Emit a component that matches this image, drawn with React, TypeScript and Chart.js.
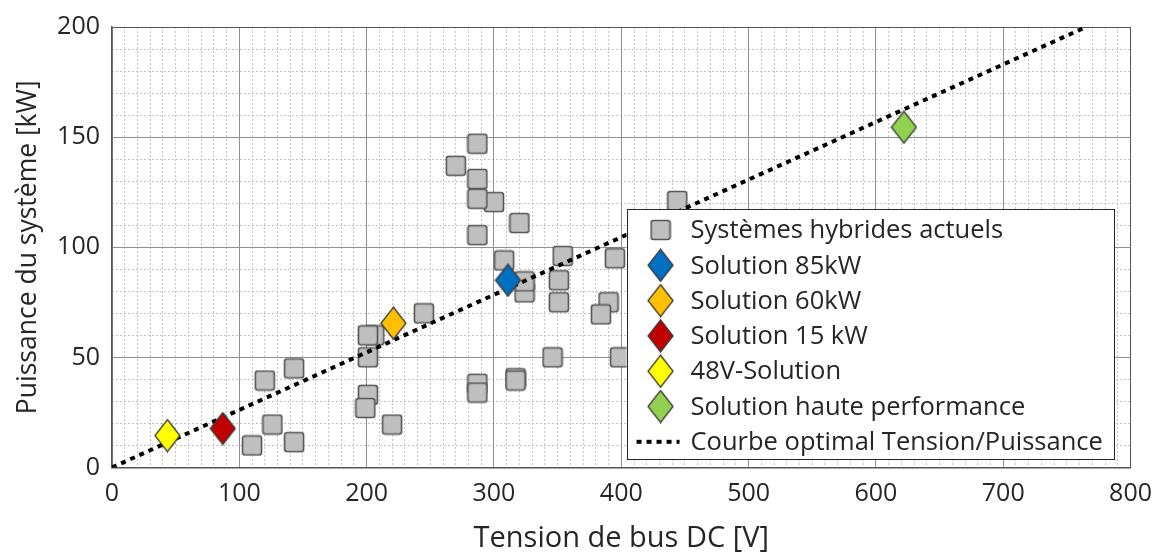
import React, { useEffect, useRef } from 'react';
import { Chart, registerables } from 'chart.js';

Chart.register(...registerables);

// ---- Data ----
const hybridVoltage = [110, 126, 120, 143, 143, 206, 201, 201, 201, 199, 220, 245, 270, 287, 287, 300, 287, 287, 320, 308, 324, 324, 287, 287, 317, 317, 346, 354, 351, 351, 390, 384, 395, 399, 444];
const hybridPower = [10, 19.5, 39.5, 45, 11.5, 60, 60, 50, 33, 27, 19.5, 70, 137, 147, 131, 120.5, 122, 105.5, 111, 94, 79.5, 84.5, 38, 34, 40.5, 39.5, 50, 96, 85, 75, 75, 69.5, 95, 50, 121];

const solutionNames = ['Solution 85kW', 'Solution 60kW', 'Solution 15 kW', '48V-Solution', 'Solution haute performance'];
const solutionVoltage = [311, 221, 87, 43.5, 622];
const solutionPower = [85, 65.5, 17.7, 14.5, 154.5];
const solutionColors = ['#0070c0', '#ffc000', '#c00000', '#ffff00', '#92d050'];

const optimalVoltage = [0, 765];
const optimalPower = [0, 200];

const hybridLabel = 'Systèmes hybrides actuels';
const optimalLabel = 'Courbe optimal Tension/Puissance';
const xTitle = 'Tension de bus DC [V]';
const yTitle = 'Puissance du système [kW]';

const xMin = 0, xMax = 800, xMajor = 100, xMinor = 10;
const yMin = 0, yMax = 200, yMajor = 50, yMinor = 10;

// ---- Styling ----
const TEXT = '#262626';
const FONT = 'Open Sans';

function makeSquare(): HTMLCanvasElement {
  const c = document.createElement('canvas');
  c.width = 22; c.height = 22;
  const ctx = c.getContext('2d')!;
  ctx.fillStyle = '#bfbfbf';
  ctx.strokeStyle = '#555555';
  ctx.lineWidth = 1.6;
  const x = 1.5, y = 1.5, w = 19, h = 19, r = 2.5;
  ctx.beginPath();
  ctx.moveTo(x + r, y);
  ctx.lineTo(x + w - r, y);
  ctx.quadraticCurveTo(x + w, y, x + w, y + r);
  ctx.lineTo(x + w, y + h - r);
  ctx.quadraticCurveTo(x + w, y + h, x + w - r, y + h);
  ctx.lineTo(x + r, y + h);
  ctx.quadraticCurveTo(x, y + h, x, y + h - r);
  ctx.lineTo(x, y + r);
  ctx.quadraticCurveTo(x, y, x + r, y);
  ctx.closePath();
  ctx.fill();
  ctx.stroke();
  return c;
}

function makeDiamond(color: string): HTMLCanvasElement {
  const c = document.createElement('canvas');
  c.width = 27; c.height = 34;
  const ctx = c.getContext('2d')!;
  ctx.fillStyle = color;
  ctx.strokeStyle = '#3a3a3a';
  ctx.lineWidth = 1.3;
  ctx.lineJoin = 'miter';
  ctx.beginPath();
  ctx.moveTo(13.5, 1);
  ctx.lineTo(26, 17);
  ctx.lineTo(13.5, 33);
  ctx.lineTo(1, 17);
  ctx.closePath();
  ctx.fill();
  ctx.stroke();
  return c;
}

const insideLegend = {
  id: 'insideLegend',
  afterDatasetsDraw(chart: any) {
    const { ctx, chartArea } = chart;
    const w = 488, h = 251;
    const right = chartArea.right - 16;
    const bottom = chartArea.bottom - 7.5;
    const left = right - w;
    const top = bottom - h;
    ctx.save();
    ctx.fillStyle = '#ffffff';
    ctx.fillRect(left, top, w, h);
    ctx.strokeStyle = '#262626';
    ctx.lineWidth = 1;
    ctx.strokeRect(Math.round(left) + 0.5, Math.round(top) + 0.5, w - 1, h - 1);
    const items = chart.data.datasets.map((d: any) => d);
    const rowH = 35.3;
    ctx.font = `25.5px "${FONT}"`;
    ctx.textBaseline = 'middle';
    ctx.textAlign = 'left';
    items.forEach((d: any, i: number) => {
      const cy = top + 21 + i * rowH;
      if (d.type === 'line') {
        ctx.save();
        ctx.strokeStyle = '#000';
        ctx.lineWidth = 4;
        ctx.setLineDash([5, 5]);
        ctx.beginPath();
        ctx.moveTo(left + 10, cy);
        ctx.lineTo(left + 53, cy);
        ctx.stroke();
        ctx.restore();
      } else {
        const img = d.pointStyle as HTMLCanvasElement;
        ctx.drawImage(img, left + 34 - img.width / 2, cy - img.height / 2);
      }
      ctx.fillStyle = TEXT;
      ctx.fillText(d.label, left + 64, cy + 1);
    });
    ctx.restore();
  },
};

export default function App() {
  const ref = useRef<HTMLCanvasElement | null>(null);

  useEffect(() => {
    if (!ref.current) return;
    const square = makeSquare();
    const datasets: any[] = [
      {
        type: 'scatter',
        label: hybridLabel,
        data: hybridVoltage.map((v, i) => ({ x: v, y: hybridPower[i] })),
        pointStyle: square,
        pointRadius: 10,
        order: 3,
      },
      ...solutionNames.map((name, i) => ({
        type: 'scatter',
        label: name,
        data: [{ x: solutionVoltage[i], y: solutionPower[i] }],
        pointStyle: makeDiamond(solutionColors[i]),
        pointRadius: 12,
        order: 1,
      })),
      {
        type: 'line',
        label: optimalLabel,
        data: optimalVoltage.map((v, i) => ({ x: v, y: optimalPower[i] })),
        borderColor: '#000000',
        borderWidth: 4,
        borderDash: [5, 5],
        pointRadius: 0,
        fill: false,
        tension: 0,
        order: 2,
      },
    ];

    const chart = new Chart(ref.current, {
      type: 'scatter',
      data: { datasets },
      options: {
        animation: false,
        responsive: false,
        layout: { padding: { top: 24.5, right: 32, left: 0, bottom: 0 } },
        plugins: {
          legend: { display: false },
          tooltip: { enabled: false },
        },
        scales: {
          x: {
            type: 'linear',
            position: 'bottom',
            min: xMin,
            max: xMax,
            ticks: { stepSize: xMajor, font: { family: FONT, size: 25 }, color: TEXT, padding: 11, maxRotation: 0 },
            grid: {
              color: (c: any) => (c.tick && c.tick.value === xMax ? '#555555' : '#8f8f8f'),
              lineWidth: 1,
              drawTicks: false,
              z: -1,
            },
            border: { display: true, color: '#555555', width: 1.5 },
            title: { display: true, text: xTitle, font: { family: FONT, size: 29 }, color: TEXT, padding: { top: 0, bottom: -3 } },
            afterFit: (s: any) => { s.height = 85.5; },
          },
          xm: {
            type: 'linear',
            position: 'bottom',
            min: xMin,
            max: xMax,
            ticks: { display: false, stepSize: xMinor },
            grid: { color: '#c4c4c4', lineWidth: 1, drawTicks: false, z: -2 },
            border: { display: false, dash: [2, 2] },
            afterFit: (s: any) => { s.height = 0; },
          },
          y: {
            type: 'linear',
            position: 'left',
            min: yMin,
            max: yMax,
            ticks: { stepSize: yMajor, font: { family: FONT, size: 25 }, color: TEXT, padding: 12 },
            grid: {
              color: (c: any) => (c.tick && c.tick.value === yMax ? '#555555' : '#8f8f8f'),
              lineWidth: 1,
              drawTicks: false,
              z: -1,
            },
            border: { display: true, color: '#555555', width: 1.5 },
            title: { display: true, text: yTitle, font: { family: FONT, size: 26.5 }, color: TEXT, padding: { top: 13, bottom: 0 } },
            afterFit: (s: any) => { s.width = 112; },
          },
          ym: {
            type: 'linear',
            position: 'left',
            min: yMin,
            max: yMax,
            ticks: { display: false, stepSize: yMinor },
            grid: { color: '#c4c4c4', lineWidth: 1, drawTicks: false, z: -2 },
            border: { display: false, dash: [2, 2] },
            afterFit: (s: any) => { s.width = 0; },
          },
        },
      } as any,
      plugins: [insideLegend],
    });
    return () => chart.destroy();
  }, []);

  return (
    <div style={{ position: 'fixed', left: 0, top: 0, width: 1163, height: 553, background: '#ffffff' }}>
      <canvas ref={ref} width={1163} height={553} style={{ display: 'block' }} />
    </div>
  );
}
